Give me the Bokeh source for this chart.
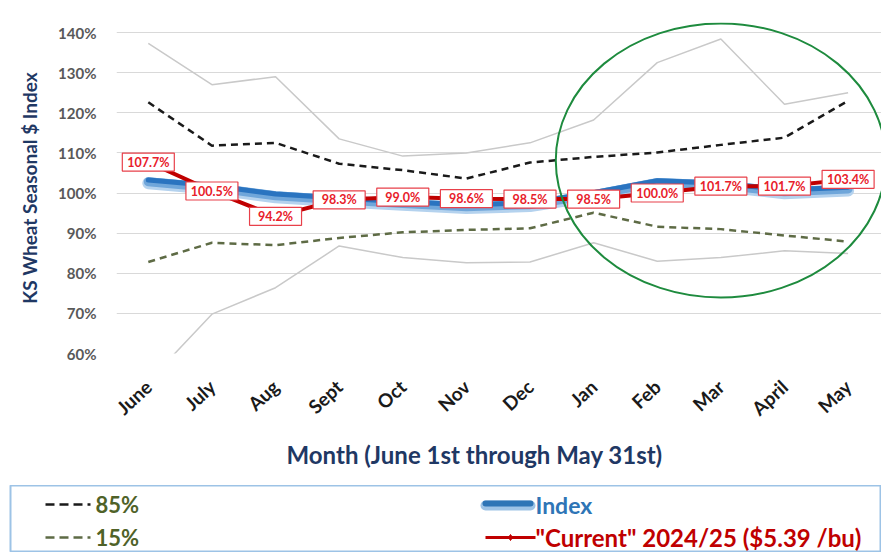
from bokeh.plotting import figure
from bokeh.models import Range1d, FixedTicker, PrintfTickFormatter, ColumnDataSource, Title
from bokeh.core.properties import value
from bokeh.embed import file_html
from bokeh.resources import INLINE

# ---------------- data ----------------
months = ["June", "July", "Aug", "Sept", "Oct", "Nov", "Dec", "Jan", "Feb", "Mar", "April", "May"]
high = [137.3, 127.0, 129.0, 113.5, 109.2, 110.0, 112.5, 118.2, 132.5, 138.4, 122.1, 125.0]
pct85 = [122.6, 111.8, 112.5, 107.3, 105.7, 103.6, 107.6, 109.0, 110.1, 112.0, 113.8, 123.0]
index_vals = [102.8, 101.4, 99.3, 98.3, 97.4, 96.6, 97.1, 99.6, 102.6, 102.0, 100.3, 101.0]
pct15 = [82.8, 87.6, 87.0, 88.8, 90.2, 90.8, 91.2, 95.1, 91.6, 91.0, 89.4, 87.9]
low = [53.0, 69.8, 76.4, 86.8, 83.9, 82.6, 82.8, 87.6, 83.0, 83.9, 85.6, 84.9]
current = [107.7, 100.5, 94.2, 98.3, 99.0, 98.6, 98.5, 98.5, 100.0, 101.7, 101.7, 103.4]
y_ticks = [60, 70, 80, 90, 100, 110, 120, 130, 140]

# highlight ellipse (centre on Mar, spanning late season)
ell_x, ell_y, ell_w, ell_h = 9.0, 108.1, 5.19, 68.3

FONT = value("Lato")
x = list(range(len(months)))
labels = [f"{v:.1f}%" for v in current]
src = ColumnDataSource(dict(x=x, high=high, p85=pct85, idx=index_vals,
                            idx_hi=[v + 0.45 for v in index_vals],
                            idx_lo=[v - 0.35 for v in index_vals],
                            p15=pct15, low=low, cur=current, lab=labels))

p = figure(width=881, height=485, output_backend="svg", toolbar_location=None,
           x_range=Range1d(-0.5, 11.525), y_range=Range1d(60, 142.5),
           min_border_left=116, min_border_right=0, min_border_top=22, min_border_bottom=132)
p.outline_line_color = None
p.background_fill_color = "white"
p.border_fill_color = "white"
p.xgrid.grid_line_color = None
p.ygrid.grid_line_color = "#D9D9D9"
p.ygrid.grid_line_width = 1

p.yaxis.ticker = FixedTicker(ticks=y_ticks)
p.yaxis.formatter = PrintfTickFormatter(format="%d%%")
p.xaxis.ticker = FixedTicker(ticks=x)
p.xaxis.major_label_overrides = {i: m for i, m in enumerate(months)}
for ax in (p.xaxis[0], p.yaxis[0]):
    ax.axis_line_color = None
    ax.major_tick_line_color = None
    ax.minor_tick_line_color = None
    ax.major_label_text_font = "Lato"
    ax.major_label_text_font_style = "bold"
    ax.axis_label_text_font = "Lato"
    ax.axis_label_text_font_style = "bold"
    ax.axis_label_text_color = "#1F3864"

p.yaxis.major_label_text_color = "#595959"
p.yaxis.major_label_text_font_size = "15px"
p.yaxis.major_label_standoff = 14
p.yaxis.axis_label = "KS Wheat Seasonal $ Index"
p.yaxis.axis_label_text_font_size = "19px"
p.yaxis.axis_label_standoff = 14

p.xaxis.major_label_text_color = "#1A1A1A"
p.xaxis.major_label_text_font_size = "19px"
p.xaxis.major_label_orientation = 0.75
p.xaxis.major_label_standoff = 24

p.add_layout(Title(text="Month (June 1st through May 31st)", align="left", offset=170,
                   text_font="Lato", text_font_style="bold", text_font_size="24px",
                   text_color="#1F3864", standoff=12), "below")

# series
p.line("x", "high", source=src, line_color="#C9C9C9", line_width=1.5)
p.line("x", "low", source=src, line_color="#C9C9C9", line_width=1.5)
p.line("x", "p85", source=src, line_color="#1A1A1A", line_width=2.5, line_dash="7 5")
p.line("x", "p15", source=src, line_color="#5E6B45", line_width=2.5, line_dash="7 5")
p.line("x", "idx_lo", source=src, line_color="#B4D2EE", line_width=12, line_cap="round", line_join="round")
p.line("x", "idx", source=src, line_color="#6FA6DA", line_width=9, line_cap="round", line_join="round")
p.line("x", "idx_hi", source=src, line_color="#2A74C0", line_width=5, line_cap="round", line_join="round")
p.line("x", "cur", source=src, line_color="#C00000", line_width=4)
p.scatter("x", "cur", source=src, size=6, marker="diamond", color="#C00000")
p.rect("x", "cur", width=52, height=18, width_units="screen", height_units="screen",
       source=src, fill_color="white", line_color="#E8404A", line_width=1.2)
p.text("x", "cur", text="lab", source=src, text_align="center", text_baseline="middle",
       text_font=FONT, text_font_style="bold", text_font_size="12.5px", text_color="#E8202A")
p.ellipse(x=[ell_x], y=[ell_y], width=ell_w, height=ell_h, fill_alpha=0,
          line_color="#1E8B3E", line_width=2)

# ---------------- legend box ----------------
leg = figure(width=881, height=67, output_backend="svg", toolbar_location=None,
             x_range=Range1d(0, 871), y_range=Range1d(67, 0),
             min_border=0, min_border_left=10, min_border_right=0,
             min_border_top=0, min_border_bottom=0)
leg.axis.visible = False
leg.grid.visible = False
leg.outline_line_color = "#9DC3E6"
leg.outline_line_width = 2
leg.background_fill_color = "white"
leg.border_fill_color = "white"

r1, r2 = 19, 52
leg.line([35, 80], [r1, r1], line_color="#1A1A1A", line_width=2.5, line_dash="9 5")
leg.line([35, 80], [r2, r2], line_color="#5E6B45", line_width=2.5, line_dash="9 5")
leg.text([85, 85], [r1, r2], text=["85%", "15%"], text_baseline="middle",
         text_font=FONT, text_font_style="bold", text_font_size="22px", text_color="#4F6228")
leg.line([475, 520], [r1 + 1, r1 + 1], line_color="#9DC3E6", line_width=10, line_cap="round")
leg.line([475, 520], [r1 - 1, r1 - 1], line_color="#2E75B6", line_width=6, line_cap="round")
leg.text([525], [r1], text=["Index"], text_baseline="middle",
         text_font=FONT, text_font_style="bold", text_font_size="23px", text_color="#2E75B6")
leg.line([475, 525], [r2, r2], line_color="#C00000", line_width=3)
leg.scatter([500], [r2], size=6, marker="diamond", color="#C00000")
leg.text([525], [r2], text=['"Current" 2024/25 ($5.39 /bu)'], text_baseline="middle",
         text_font=FONT, text_font_style="bold", text_font_size="24px", text_color="#C00000")

open("out.html", "w").write(file_html([p, leg], INLINE))
